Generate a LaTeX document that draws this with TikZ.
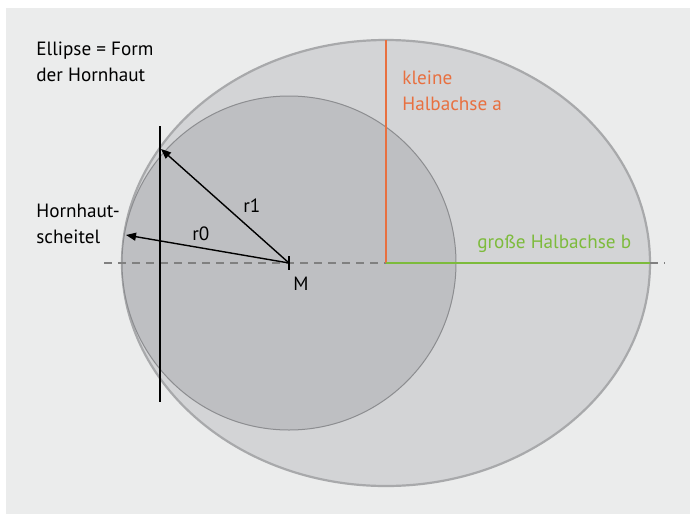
\documentclass[tikz,border=0pt]{standalone}
\usepackage{fontspec}
\setmainfont{PT Sans}
\usetikzlibrary{arrows.meta}

\definecolor{panelgray}{RGB}{235,236,236}
\definecolor{ellipsefill}{RGB}{211,212,214}
\definecolor{ellipseline}{RGB}{168,169,171}
\definecolor{circlefill}{RGB}{190,191,194}
\definecolor{circleline}{RGB}{140,141,144}
\definecolor{axisred}{RGB}{232,112,64}
\definecolor{axisgreen}{RGB}{125,187,60}

\begin{document}
\begin{tikzpicture}[
		x = 0.5pt, y = -0.5pt, % one unit = one pixel of the sketch
		> = {Triangle[length=5pt,width=4pt]}, % arrow head style
		font = \fontsize{9.6}{13}\selectfont,
		caption/.style = {align=left, inner sep=0pt, anchor=base west},
		radiusline/.style = {->, line width=0.7pt, shorten > = 0pt}
		]
		
		\useasboundingbox (0,0) rectangle (691,515);
		\fill[panelgray] (6,8) rectangle (690,514);
		
		% ellipse and circle of curvature
		\coordinate (E) at (386,263);
		\coordinate (M) at (289,263);
		\filldraw[fill=ellipsefill, draw=ellipseline, line width=1.1pt]
			(E) ellipse [x radius=264, y radius=223];
		\filldraw[fill=circlefill, draw=circleline, line width=0.5pt]
			(M) circle [radius=167];
		
		% axes
		\coordinate (Etop) at (386,40);
		\coordinate (Eright) at (650,263);
		\coordinate (axL) at (104,263);
		\coordinate (axR) at (665,263);
		\draw[dashed, dash pattern=on 4pt off 3pt, gray, line width=0.6pt] (axL) -- (axR);
		\draw[axisred, line width=1pt] (E) -- (Etop);
		\draw[axisgreen, line width=1pt] (E) -- (Eright);
		
		% tangent line and radii
		\coordinate (Ltop) at (160,126);
		\coordinate (Lbot) at (160,402);
		\coordinate (P1) at (161,149);
		\coordinate (P0) at (126,235);
		\draw[line width=0.8pt] (Ltop) -- (Lbot);
		\draw[radiusline] (M) -- (P1);
		\draw[radiusline] (M) -- (P0);
		\draw[line width=0.8pt] ([yshift=3.5pt]M) -- ([yshift=-3.5pt]M);
		
		% labels (base = last line)
		\node[caption] (lEllipse) at (36,81) {Ellipse = Form\\der Hornhaut};
		\node[caption] (lScheitel) at (36,243) {Hornhaut-\\scheitel};
		\node[caption] (lR1) at (243,212) {r1};
		\node[caption] (lR0) at (192,240) {r0};
		\node[caption] (lM) at (293,290) {M};
		\node[caption, text=axisred] (lKlein) at (402,110) {kleine\\Halbachse a};
		\node[caption, text=axisgreen] (lGross) at (477,248) {große Halbachse b};
		
	\end{tikzpicture}
\end{document}
